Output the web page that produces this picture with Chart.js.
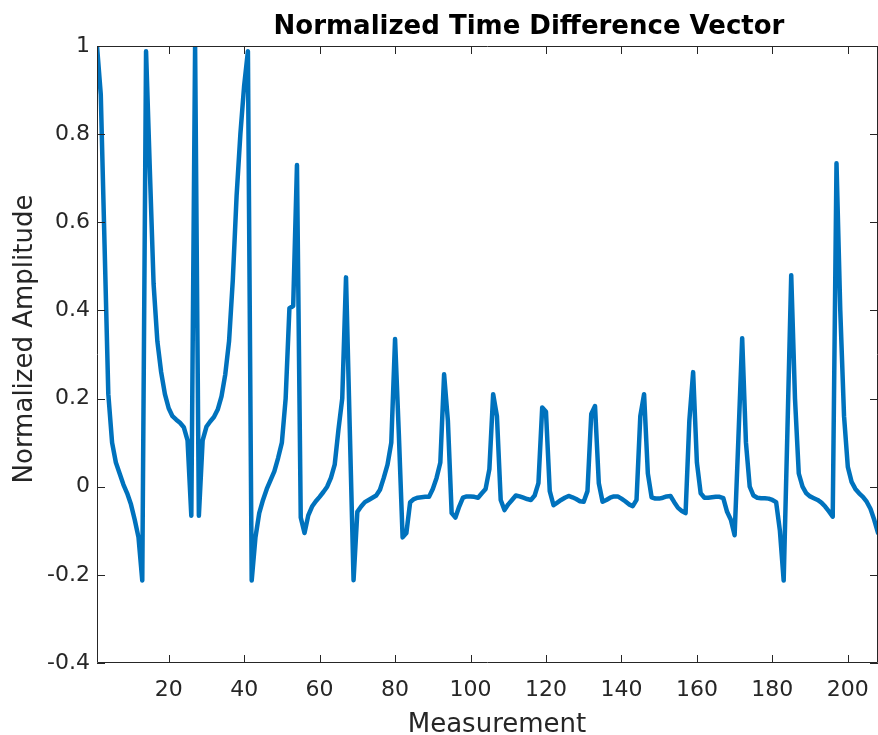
<!DOCTYPE html>
<html lang="en">
<head>
    <meta charset="UTF-8">
    <title>Normalized Time Difference Vector</title>
    <script src="https://cdn.jsdelivr.net/npm/chart.js"></script>
    <style>
        html, body {
            margin: 0;
            padding: 0;
            background: #ffffff;
        }
        .chart-box {
            width: 878px;
            height: 735px;
        }
    </style>
</head>
<body>
    <div class="chart-box">
        <canvas id="tdvChart"></canvas>
    </div>

    <script>
        const amplitude = [
            1.0, 0.89, 0.55, 0.21, 0.10, 0.055, 0.03, 0.005, -0.015, -0.04, -0.075, -0.115, -0.213,
            0.988, 0.72, 0.46, 0.33, 0.26, 0.21, 0.178, 0.16, 0.152, 0.145, 0.135, 0.105, -0.066,
            1.0, -0.066, 0.105, 0.136, 0.148, 0.158, 0.175, 0.205, 0.255, 0.33, 0.47, 0.66, 0.8, 0.91, 0.988,
            -0.213, -0.115, -0.06, -0.03, -0.005, 0.015, 0.035, 0.065, 0.1, 0.2, 0.405, 0.41, 0.73,
            -0.07, -0.105, -0.065, -0.045, -0.033, -0.023, -0.012, 0.0, 0.02, 0.05, 0.13, 0.2, 0.475,
            0.13, -0.212, -0.057, -0.045, -0.035, -0.03, -0.025, -0.02, -0.007, 0.02, 0.05, 0.1, 0.335,
            0.12, -0.115, -0.105, -0.035, -0.028, -0.025, -0.024, -0.023, -0.023, -0.005, 0.02, 0.055, 0.255,
            0.15, -0.06, -0.07, -0.045, -0.025, -0.022, -0.022, -0.023, -0.025, -0.015, -0.005, 0.04, 0.21,
            0.16, -0.03, -0.053, -0.04, -0.03, -0.02, -0.022, -0.025, -0.028, -0.03, -0.02, 0.008, 0.18,
            0.17, -0.01, -0.042, -0.036, -0.03, -0.025, -0.021, -0.024, -0.028, -0.033, -0.034, -0.01, 0.165,
            0.183, 0.008, -0.034, -0.03, -0.025, -0.022, -0.022, -0.027, -0.033, -0.04, -0.044, -0.03, 0.16, 0.21,
            0.03, -0.024, -0.027, -0.027, -0.025, -0.022, -0.021, -0.035, -0.048, -0.055, -0.06, 0.15, 0.26,
            0.055, -0.015, -0.025, -0.025, -0.024, -0.023, -0.023, -0.026, -0.057, -0.075, -0.11, 0.11, 0.337,
            0.1, 0.0, -0.02, -0.025, -0.026, -0.026, -0.027, -0.03, -0.035, -0.1, -0.213, 0.13, 0.48,
            0.2, 0.03, 0.0, -0.015, -0.022, -0.026, -0.03, -0.036, -0.045, -0.056, -0.068, 0.734,
            0.4, 0.16, 0.045, 0.011, -0.005, -0.015, -0.023, -0.034, -0.05, -0.075, -0.105
        ];
        const measurement = amplitude.map((v, i) => i + 1);

        const xTicks = [20, 40, 60, 80, 100, 120, 140, 160, 180, 200];
        const yTicks = [-0.4, -0.2, 0, 0.2, 0.4, 0.6, 0.8, 1];
        const yTickLabels = ['-0.4', '-0.2', '0', '0.2', '0.4', '0.6', '0.8', '1'];

        const axisColor = '#262626';
        const lineColor = '#0072BD';
        const fontFamily = "'DejaVu Sans', Verdana, sans-serif";

        // box, inward ticks on all four sides, title and axis labels
        const matlabAxes = {
            id: 'matlabAxes',
            afterDraw(chart) {
                const { ctx, chartArea: a, scales } = chart;
                const tick = 8;
                ctx.save();
                ctx.strokeStyle = axisColor;
                ctx.lineWidth = 1;
                ctx.beginPath();
                ctx.rect(a.left + 0.5, a.top + 0.5, a.right - a.left - 1, a.bottom - a.top - 1);
                xTicks.forEach(v => {
                    const px = Math.round(scales.x.getPixelForValue(v)) + 0.5;
                    ctx.moveTo(px, a.bottom);
                    ctx.lineTo(px, a.bottom - tick);
                    ctx.moveTo(px, a.top);
                    ctx.lineTo(px, a.top + tick);
                });
                yTicks.forEach(v => {
                    const py = Math.round(scales.y.getPixelForValue(v)) + 0.5;
                    ctx.moveTo(a.left, py);
                    ctx.lineTo(a.left + tick, py);
                    ctx.moveTo(a.right, py);
                    ctx.lineTo(a.right - tick, py);
                });
                ctx.stroke();

                ctx.fillStyle = '#000000';
                ctx.font = 'bold 26px ' + fontFamily;
                ctx.textAlign = 'center';
                ctx.textBaseline = 'alphabetic';
                ctx.fillText('Normalized Time Difference Vector', 529, 34);

                ctx.fillStyle = axisColor;
                ctx.font = '26px ' + fontFamily;
                ctx.fillText('Measurement', 497, 732);

                ctx.translate(32, 339);
                ctx.rotate(-Math.PI / 2);
                ctx.fillText('Normalized Amplitude', 0, 0);
                ctx.restore();
            }
        };

        new Chart(document.getElementById('tdvChart'), {
            type: 'line',
            data: {
                datasets: [{
                    data: measurement.map((x, i) => ({ x: x, y: amplitude[i] })),
                    borderColor: lineColor,
                    borderWidth: 4.5,
                    borderJoinStyle: 'round',
                    borderCapStyle: 'round',
                    pointRadius: 0,
                    tension: 0,
                    fill: false
                }]
            },
            options: {
                responsive: true,
                maintainAspectRatio: false,
                animation: false,
                layout: { padding: { top: 46, right: 0, left: 0, bottom: 0 } },
                plugins: {
                    legend: { display: false },
                    tooltip: { enabled: false },
                    title: { display: false }
                },
                scales: {
                    x: {
                        type: 'linear',
                        min: 1,
                        max: 208,
                        grid: { display: false, drawTicks: false },
                        border: { display: false },
                        afterBuildTicks: s => { s.ticks = xTicks.map(v => ({ value: v })); },
                        afterFit: s => {
                            s.height = 72;
                            s.paddingLeft = 0;
                            s.paddingRight = 0;
                        },
                        ticks: {
                            color: axisColor,
                            font: { family: fontFamily, size: 22 },
                            padding: 14,
                            maxRotation: 0,
                            autoSkip: false
                        }
                    },
                    y: {
                        min: -0.4,
                        max: 1,
                        grid: { display: false, drawTicks: false },
                        border: { display: false },
                        afterBuildTicks: s => { s.ticks = yTicks.map(v => ({ value: v })); },
                        afterFit: s => {
                            s.width = 97;
                            s.paddingTop = 0;
                            s.paddingBottom = 0;
                        },
                        ticks: {
                            color: axisColor,
                            font: { family: fontFamily, size: 22 },
                            padding: 7,
                            autoSkip: false,
                            callback: v => yTickLabels[yTicks.indexOf(v)]
                        }
                    }
                }
            },
            plugins: [matlabAxes]
        });
    </script>
</body>
</html>
